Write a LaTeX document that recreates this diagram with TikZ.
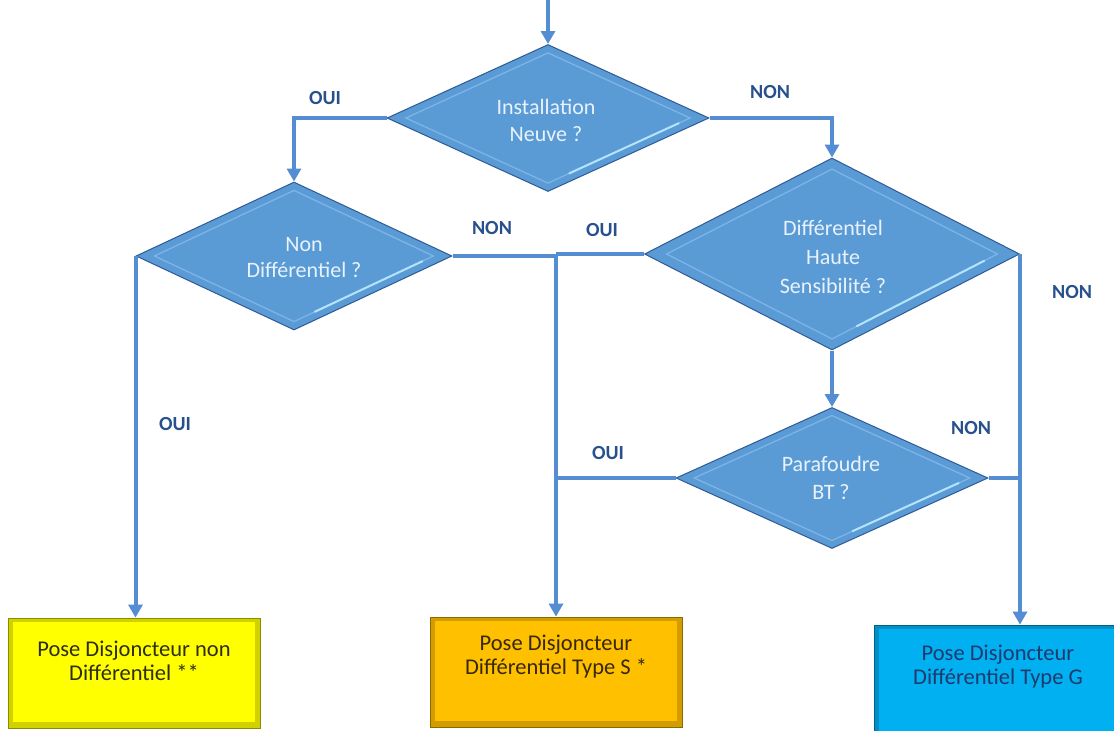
\documentclass[tikz,border=0pt]{standalone}
\usepackage{fontspec}
\setmainfont{Carlito}
\usetikzlibrary{shapes.geometric,arrows.meta,calc}
\definecolor{dfill}{RGB}{91,155,213}
\definecolor{dedge}{RGB}{46,90,150}
\definecolor{dband}{RGB}{125,180,232}
\definecolor{dhigh}{RGB}{180,228,252}
\definecolor{dtext}{RGB}{232,242,252}
\definecolor{conn}{RGB}{84,141,210}
\definecolor{lbl}{RGB}{40,80,140}
\definecolor{byellow}{RGB}{255,255,0}
\definecolor{borange}{RGB}{255,192,0}
\definecolor{bcyan}{RGB}{0,176,240}
\definecolor{tyellow}{RGB}{45,45,20}
\definecolor{torange}{RGB}{55,40,10}
\definecolor{tcyan}{RGB}{30,58,110}
\newcommand\dbevel[1]{%
  \coordinate (#1-in-n) at ($(#1.center)!0.88!(#1.north)$);
  \coordinate (#1-in-e) at ($(#1.center)!0.88!(#1.east)$);
  \coordinate (#1-in-s) at ($(#1.center)!0.88!(#1.south)$);
  \coordinate (#1-in-w) at ($(#1.center)!0.88!(#1.west)$);
  \draw[dband, line width=1.3pt] (#1-in-n) -- (#1-in-e) -- (#1-in-s) -- (#1-in-w) -- cycle;
  \draw[dhigh, line width=2pt, line cap=round] ($(#1-in-e)!0.08!(#1-in-s)$) -- ($(#1-in-e)!0.85!(#1-in-s)$);
}
\tikzset{
  decision/.style 2 args={diamond, fill=dfill, draw=dedge, line width=1pt,
    inner sep=0pt, text=dtext, align=center,
    font=\fontsize{21}{27}\selectfont,
    minimum width=#1, minimum height=#2},
  dtxt/.style={text=dtext, align=center, font=\fontsize{22}{#1}\selectfont},
  box/.style={rectangle, draw=#1!55!black, line width=0.8pt, fill=#1!82!black,
    inner sep=0pt, minimum width=252pt, minimum height=110pt,
    path picture={\fill[#1] ($(path picture bounding box.south west)+(5pt,6pt)$)
      rectangle ($(path picture bounding box.north east)+(-5pt,-4pt)$);}},
  boxtext/.style={align=center, text=#1, font=\fontsize{22.5}{24}\selectfont},
  conn/.style={draw=conn, line width=4pt},
  connarrow/.style={conn, -{Triangle[width=14pt,length=13pt]}},
  lab/.style={text=lbl, font=\fontsize{20}{22}\selectfont\bfseries},
}
\begin{document}
\begin{tikzpicture}[x=1pt,y=-1pt]
\useasboundingbox (0,0) rectangle (1114,731);
\fill[white] (0,0) rectangle (1114,731);
\clip (0,0) rectangle (1114,731);

% decisions
\node[decision={322pt}{147pt}] (d1) at (548,118) {};
\dbevel{d1}
\node[dtxt=27] (d1t) at (546,120) {Installation\\Neuve ?};

\node[decision={316pt}{148pt}] (d2) at (294,256) {};
\dbevel{d2}
\node[dtxt=26] (d2t) at (304,258) {Non\\Différentiel ?};

\node[decision={375pt}{192pt}] (d3) at (832,254) {};
\dbevel{d3}
\node[dtxt=29] (d3t) at (833,257) {Différentiel\\Haute\\Sensibilité ?};

\node[decision={312pt}{141pt}] (d4) at (832,478) {};
\dbevel{d4}
\node[dtxt=28] (d4t) at (831,478) {Parafoudre\\BT ?};

% result boxes
\node[box=byellow] (b1) at (134,673) {};
\node[boxtext=tyellow] (b1t) at (134,661) {Pose Disjoncteur non\\Différentiel **};

\node[box=borange] (b2) at (556,672) {};
\node[boxtext=torange] (b2t) at (556,657) {Pose Disjoncteur\\Différentiel Type S *};

\node[box=bcyan, minimum width=290pt, minimum height=120pt] (b3) at (1019,685) {};
\node[boxtext=tcyan] (b3t) at (998,667) {Pose Disjoncteur\\Différentiel Type G};

% connectors
\coordinate (start) at (548,0);
\coordinate (J) at (556,255);
\draw[connarrow] (start) -- (d1.north);
\draw[connarrow] (d1.west) -| (d2.north);
\draw[connarrow] (d1.east) -| (d3.north);
\draw[conn] (d2.east) -- (d2.east -| J);
\draw[conn] (d3.west) -- (d3.west -| J);
\draw[connarrow] (J) -- (b2.north);
\draw[conn] (d4.west) -- (d4.west -| J);
\draw[connarrow] (d2.west) -- (d2.west |- b1.north);
\draw[connarrow] (d3.east) -- (d3.east |- b3.north);
\draw[conn] (d4.east) -- (d4.east -| d3.east);
\draw[connarrow] (d3.south) -- (d4.north);

% labels
\node[lab] (l1) at (325,98) {OUI};
\node[lab] (l2) at (770,92) {NON};
\node[lab] (l3) at (492,228) {NON};
\node[lab] (l4) at (602,230) {OUI};
\node[lab] (l5) at (1072,292) {NON};
\node[lab] (l6) at (175,424) {OUI};
\node[lab] (l7) at (608,453) {OUI};
\node[lab] (l8) at (971,428) {NON};
\end{tikzpicture}
\end{document}
